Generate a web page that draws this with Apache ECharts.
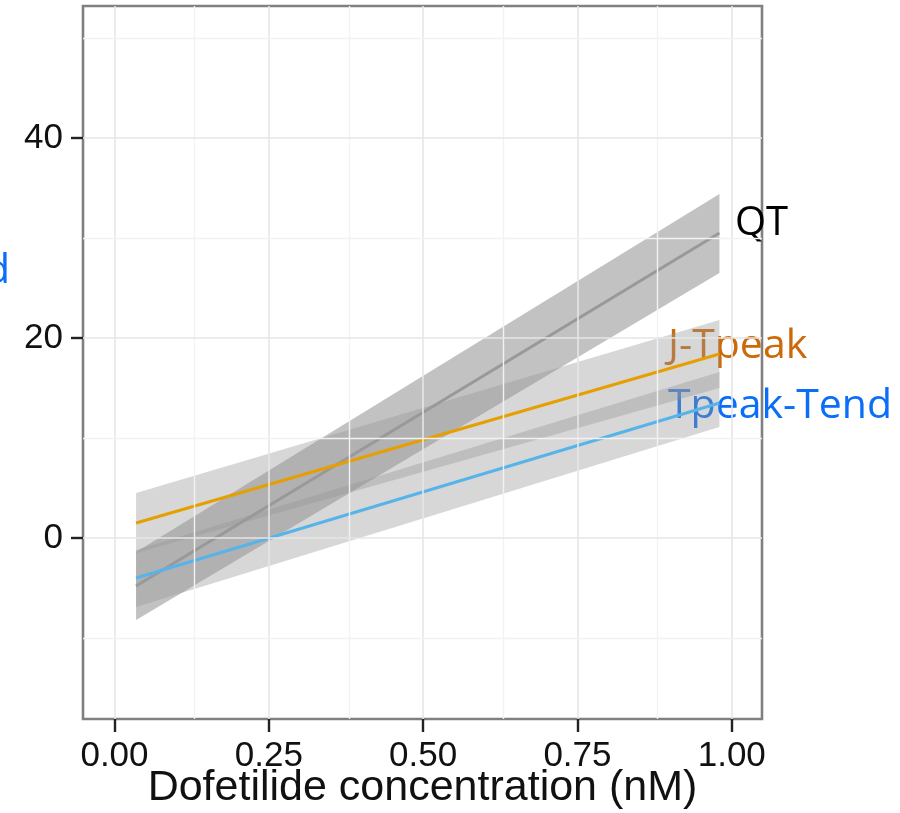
<!DOCTYPE html>
<html>
<head>
<meta charset="utf-8">
<script src="https://cdn.jsdelivr.net/npm/echarts@6/dist/echarts.min.js"></script>
<style>
html,body{margin:0;padding:0;background:#fff;}
#chart{width:900px;height:813px;}
</style>
</head>
<body>
<div id="chart"></div>
<script>
// ---- data ----
const conc = [0.035, 0.98];            // fitted-line x range (nM)
const qtFit = [-4.8, 30.5];
const qtLo  = [-8.2, 26.5];
const qtHi  = [-1.4, 34.4];
const jtFit = [1.5, 18.4];
const jtLo  = [-1.5, 15.0];
const jtHi  = [4.5, 21.8];
const ttFit = [-4.0, 13.5];
const ttLo  = [-6.9, 11.1];
const ttHi  = [-1.2, 16.6];
const xTicks = [0, 0.25, 0.5, 0.75, 1.0];
const yTicks = [0, 20, 40];
const xGridMajor = [0, 0.25, 0.5, 0.75, 1.0];
const xGridMinor = [0.125, 0.375, 0.625, 0.875];
const yGridMajor = [0, 20, 40];
const yGridMinor = [-10, 10, 30, 50];
const xTitle = 'Dofetilide concentration (nM)';

function pairs(xs, ys){ return xs.map((x,i)=>[x, ys[i]]); }
function bandData(xs, lo, hi){ return xs.map((x,i)=>[x, lo[i], hi[i]]); }

function bandSeries(name, data, color){
  return {
    type:'custom', name:name, z:2, silent:true,
    data:data,
    renderItem:function(params, api){
      if(params.dataIndex !== 0) return null;
      const pts = [];
      data.forEach(d=>pts.push(api.coord([d[0], d[2]])));
      for(let i=data.length-1;i>=0;i--) pts.push(api.coord([data[i][0], data[i][1]]));
      return {type:'polygon', shape:{points:pts}, style:{fill:color}};
    }
  };
}
function lineSeries(name, data, color){
  return {type:'line', name:name, z:3, data:data, showSymbol:false, symbol:'none',
    lineStyle:{color:color, width:3}, silent:true};
}

const gridLines = []
  .concat(xGridMajor.map(v=>({xAxis:v, lineStyle:{color:'#e6e6e6', width:1.6, type:'solid'}})))
  .concat(xGridMinor.map(v=>({xAxis:v, lineStyle:{color:'#f2f2f2', width:1.4, type:'solid'}})))
  .concat(yGridMajor.map(v=>({yAxis:v, lineStyle:{color:'#e6e6e6', width:1.6, type:'solid'}})))
  .concat(yGridMinor.map(v=>({yAxis:v, lineStyle:{color:'#f2f2f2', width:1.4, type:'solid'}})));

const chart = echarts.init(document.getElementById('chart'), null, {renderer:'canvas'});
chart.setOption({
  animation:false,
  backgroundColor:'#fff',
  grid:{left:83, right:138, top:6, bottom:94, show:true, borderColor:'#808080', borderWidth:2.6,
        backgroundColor:'#fff', containLabel:false, outerBoundsMode:'none'},
  xAxis:{
    type:'value', min:-0.051, max:1.049,
    axisLine:{show:false, onZero:false},
    splitLine:{show:false},
    axisTick:{show:true, length:13, inside:false, customValues:xTicks, lineStyle:{color:'#222', width:2.4}},
    axisLabel:{customValues:xTicks, formatter:v=>v.toFixed(2), fontFamily:'Liberation Sans', fontSize:35, color:'#111', margin:20},
    name:xTitle, nameLocation:'middle', nameGap:48, nameMoveOverlap:false,
    nameTextStyle:{fontFamily:'Liberation Sans', fontSize:43, color:'#111'}
  },
  yAxis:{
    type:'value', min:-18.1, max:53.2,
    axisLine:{show:false, onZero:false},
    splitLine:{show:false},
    axisTick:{show:true, length:12, inside:false, customValues:yTicks, lineStyle:{color:'#222', width:2.4}},
    axisLabel:{customValues:yTicks, fontFamily:'Liberation Sans', fontSize:35, color:'#111', margin:20}
  },
  series:[
    {type:'line', name:'grid', z:1, data:[], silent:true,
     markLine:{silent:true, symbol:['none','none'], label:{show:false}, animation:false, data:gridLines}},
    bandSeries('QT band', bandData(conc, qtLo, qtHi), 'rgba(120,120,120,0.45)'),
    bandSeries('J-Tpeak band', bandData(conc, jtLo, jtHi), 'rgba(150,150,150,0.38)'),
    bandSeries('Tpeak-Tend band', bandData(conc, ttLo, ttHi), 'rgba(150,150,150,0.38)'),
    lineSeries('QT', pairs(conc, qtFit), '#999999'),
    lineSeries('J-Tpeak', pairs(conc, jtFit), '#E69F00'),
    lineSeries('Tpeak-Tend', pairs(conc, ttFit), '#56B4E9')
  ],
  graphic:[
    {type:'text', left:735, top:204, style:{text:'QT', font:'40px "Open Sans"', fill:'#000'}},
    {type:'text', left:668, top:326, style:{text:'J-Tpeak', font:'41px "Open Sans"', fill:'#CC6A0A'}},
    {type:'text', left:668, top:386, style:{text:'Tpeak-Tend', font:'41px "Open Sans"', fill:'#0A6EF8'}},
    {type:'text', left:-15, top:251, style:{text:'d', font:'41px "Open Sans"', fill:'#0A6EF8'}}
  ]
});
</script>
</body>
</html>
